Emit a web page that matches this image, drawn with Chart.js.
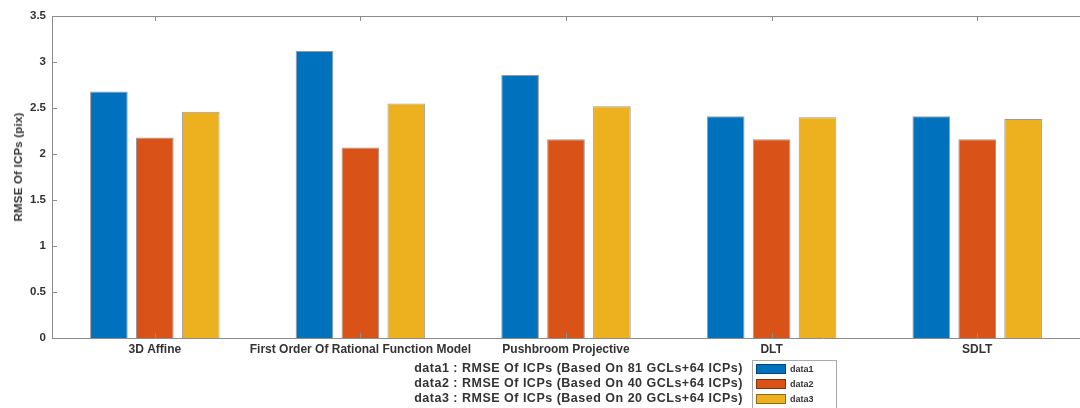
<!DOCTYPE html>
<html><head><meta charset="utf-8">
<script src="https://cdn.jsdelivr.net/npm/chart.js@4.4.1/dist/chart.umd.min.js"></script>
<style>
html,body{margin:0;padding:0;background:#fff;overflow:hidden;}
#wrap{position:relative;width:1080px;height:408px;overflow:hidden;font-family:"Liberation Sans",Arial,sans-serif;font-weight:bold;color:#333;}
#c{position:absolute;left:0;top:0;}
#ytitle{position:absolute;left:18px;top:167px;transform:translate(-50%,-50%) rotate(-90deg);white-space:nowrap;font-size:11.5px;letter-spacing:0.2px;}
#notes{position:absolute;right:337px;top:361px;text-align:right;font-size:12.5px;letter-spacing:0.5px;line-height:15px;white-space:nowrap;}
#legend{position:absolute;left:752px;top:360px;width:85px;height:50px;border:1px solid #aaa;box-sizing:border-box;background:#fff;}
.li{position:absolute;left:3px;height:11px;font-size:9px;line-height:11px;}
.sw{display:inline-block;width:30px;height:10px;vertical-align:top;box-sizing:border-box;border:1px solid rgba(0,0,0,0.4);}
.li span{margin-left:4px;vertical-align:top;}
</style></head>
<body>
<div id="wrap">
<canvas id="c" width="1080" height="408"></canvas>
<div id="ytitle">RMSE Of ICPs (pix)</div>
<div id="notes"></div>
<div id="legend"></div>
</div>
<script>
const categories = ["3D Affine","First Order Of Rational Function Model","Pushbroom Projective","DLT","SDLT"];
const seriesNames = ["data1","data2","data3"];
const data1 = [2.68, 3.12, 2.86, 2.41, 2.41];
const data2 = [2.18, 2.07, 2.16, 2.16, 2.16];
const data3 = [2.46, 2.55, 2.52, 2.40, 2.38];
const noteTexts = [
  "data1 : RMSE Of ICPs (Based On 81 GCLs+64 ICPs)",
  "data2 : RMSE Of ICPs (Based On 40 GCLs+64 ICPs)",
  "data3 : RMSE Of ICPs (Based On 20 GCLs+64 ICPs)"
];
const yTickValues = [0,0.5,1,1.5,2,2.5,3,3.5];
const yTickLabels = ["0","0.5","1","1.5","2","2.5","3","3.5"];
const colors = ["#0072BD","#D95319","#EDB120"];

const matlabAxes = {
  id:'matlabAxes',
  afterDraw(chart){
    const {ctx, chartArea:a, scales:{x,y}} = chart;
    ctx.save();
    ctx.strokeStyle='#8c8c8c'; ctx.lineWidth=1;
    ctx.beginPath();
    const t = Math.round(a.top)+0.5;
    ctx.moveTo(a.left, t); ctx.lineTo(a.right, t);
    y.ticks.forEach((tk,i)=>{
      const py=Math.round(y.getPixelForTick(i))+0.5;
      ctx.moveTo(a.left,py); ctx.lineTo(a.left+5,py);
    });
    x.ticks.forEach((tk,i)=>{
      const px=Math.round(x.getPixelForTick(i))+0.5;
      ctx.moveTo(px,a.bottom); ctx.lineTo(px,a.bottom-5);
      ctx.moveTo(px,a.top); ctx.lineTo(px,a.top+5);
    });
    ctx.stroke();
    ctx.restore();
  }
};

const dsets = [data1,data2,data3].map((d,i)=>({
  label: seriesNames[i], data: d, backgroundColor: colors[i],
  borderColor: 'rgba(0,0,0,0.4)', borderWidth: 1,
  categoryPercentage: 0.67, barPercentage: 0.82
}));

new Chart(document.getElementById('c'), {
  type:'bar',
  data:{labels:categories, datasets:dsets},
  plugins:[matlabAxes],
  options:{
    responsive:false, animation:false,
    layout:{padding:{left:0,right:0,top:16,bottom:0}},
    plugins:{legend:{display:false}, tooltip:{enabled:false}},
    scales:{
      x:{
        grid:{display:false, drawTicks:false},
        border:{display:true, color:'#8c8c8c'},
        ticks:{padding:4, color:'#333', maxRotation:0, autoSkip:false, font:{family:'"Liberation Sans", Arial', size:12, weight:'bold'}},
        afterFit(s){ s.height = 70; }
      },
      y:{
        min:0, max:3.5,
        afterBuildTicks(s){ s.ticks = yTickValues.map(v=>({value:v})); },
        grid:{display:false, drawTicks:false},
        border:{display:true, color:'#8c8c8c'},
        ticks:{padding:6, color:'#333', font:{family:'"Liberation Sans", Arial', size:11.5, weight:'bold'},
          callback:(v,i)=>yTickLabels[i]},
        afterFit(s){ s.width = 52; }
      }
    }
  }
});

document.getElementById('notes').innerHTML = noteTexts.map(t=>'<div>'+t+'</div>').join('');
document.getElementById('legend').innerHTML = seriesNames.map((n,i)=>
  '<div class="li" style="top:'+(3+i*15)+'px"><span class="sw" style="background:'+colors[i]+';margin-left:0"></span><span>'+n+'</span></div>').join('');
</script>
</body></html>
